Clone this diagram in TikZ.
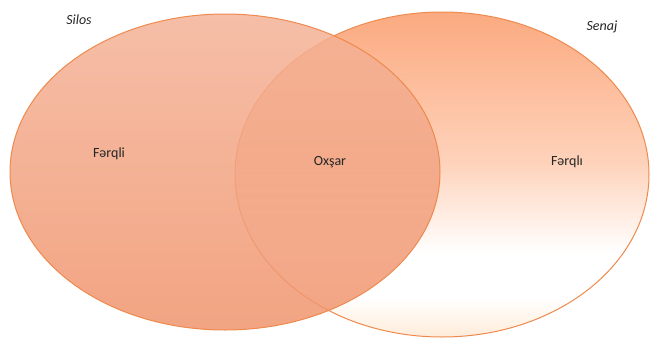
\documentclass[tikz,border=0pt]{standalone}
\usepackage{fontspec}
\setmainfont{Carlito}
\definecolor{edgeor}{HTML}{EE8A4E}
\definecolor{ltop}{HTML}{F4B398}
\definecolor{lbot}{HTML}{F0946C}
\definecolor{txt}{HTML}{262626}
\pgfdeclareverticalshading{rightsh}{100bp}{color(0bp)=(white!85!orange); color(25bp)=(white!85!orange); color(31bp)=(white); color(38bp)=(white); color(52bp)=({rgb,255:red,254;green,210;blue,186}); color(75bp)=({rgb,255:red,251;green,170;blue,128}); color(100bp)=({rgb,255:red,251;green,170;blue,128})}
\tikzset{
  venn/.style={draw=edgeor, line width=1pt},
  lbl/.style={font=\fontsize{14}{16}\selectfont, text=txt, inner sep=0pt},
  ttl/.style={font=\itshape\fontsize{14}{16}\selectfont, text=txt, inner sep=0pt}
}
\begin{document}
\begin{tikzpicture}[x=1pt,y=-1pt]
\useasboundingbox (0,0) rectangle (654,341);
\path[venn, shading=rightsh] (442,174.5) ellipse [x radius=207, y radius=162.5];
\path[venn, top color=ltop, bottom color=lbot, fill opacity=0.85] (225,172) ellipse [x radius=215, y radius=158];
\node[ttl] (silos) at (79,20) {Silos};
\node[ttl] (senaj) at (602,27) {Senaj};
\node[lbl] (f1) at (109,154) {Fərqli};
\node[lbl] (ox) at (330,162) {Oxşar};
\node[lbl] (f2) at (567,162) {Fərqlı};
\end{tikzpicture}
\end{document}
